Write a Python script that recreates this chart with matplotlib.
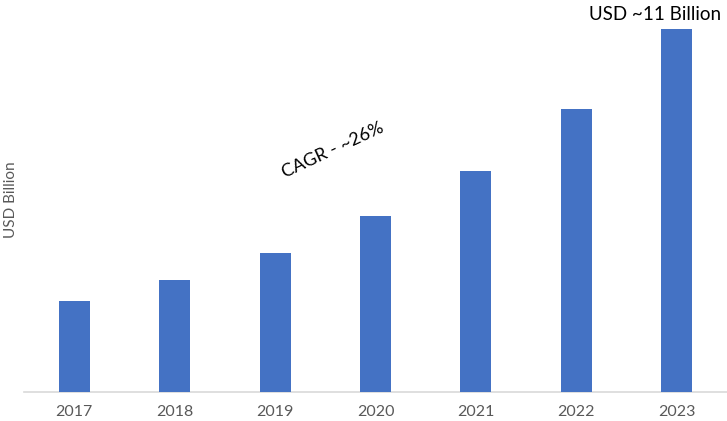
import matplotlib
matplotlib.use("Agg")
import matplotlib.pyplot as plt

years = ["2017", "2018", "2019", "2020", "2021", "2022", "2023"]
values = [2.77, 3.40, 4.22, 5.32, 6.69, 8.57, 11.0]
top_label = "USD ~11 Billion"
cagr_label = "CAGR - ~26%"
y_label = "USD Billion"

plt.rcParams['font.family'] = ['Lato', 'DejaVu Sans']

fig = plt.figure(figsize=(7.27, 4.21), dpi=100)
ax = fig.add_axes([24/727, 29/421, 703/727, 392/421])

x = list(range(len(years)))
ax.bar(x, values, width=0.31, color="#4472C4", zorder=3)
ax.set_xlim(-0.5, len(years) - 0.5)
ax.set_ylim(0, 11.88)
ax.set_xticks(x)
ax.set_xticklabels(years, fontsize=11.5, color="#595959")
ax.tick_params(axis='x', length=0, pad=9)
ax.set_yticks([])
for s in ["top", "right", "left"]:
    ax.spines[s].set_visible(False)
ax.spines["bottom"].set_color("#D9D9D9")
ax.spines["bottom"].set_linewidth(1.2)

ax.set_ylabel(y_label, fontsize=11, color="#595959")
ax.yaxis.set_label_coords(-0.008, 0.49)

ax.text(5.78, 11.45, top_label, ha="center", va="center", fontsize=13.5, color="black")
ax.text(2.58, 7.33, cagr_label, ha="center", va="center", fontsize=13, color="black", rotation=25)

fig.savefig("out.png", dpi=100)
